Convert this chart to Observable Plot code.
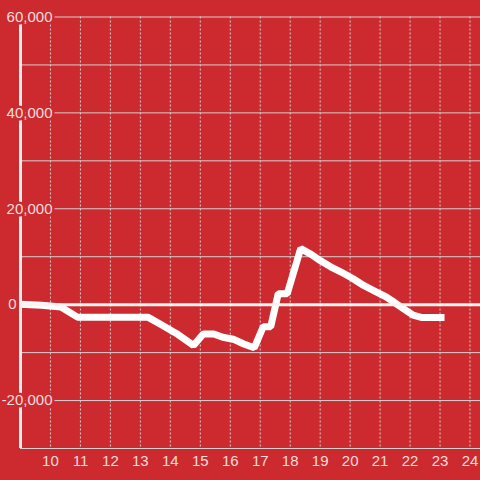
<!DOCTYPE html>
<html><head><meta charset="utf-8">
<script src="https://cdn.jsdelivr.net/npm/d3@7"></script>
<script src="https://cdn.jsdelivr.net/npm/@observablehq/plot@0.6"></script>
<style>
html,body{margin:0;padding:0;background:#cd2a2f;}
#chart{width:480px;height:480px;}
</style></head><body><div id="chart"></div>
<script>
const hours = [9.0, 9.7, 10.35, 10.9, 13.25, 13.7, 14.2, 14.77, 15.1, 15.45, 15.75, 16.1, 16.45, 16.8, 17.1, 17.35, 17.6, 17.9, 18.35, 18.7, 19.0, 19.35, 19.7, 20.1, 20.45, 20.8, 21.15, 21.45, 21.75, 22.1, 22.4, 23.15];
const values = [100, -100, -500, -2600, -2600, -4200, -6000, -8500, -6100, -6100, -6800, -7200, -8200, -9000, -4600, -4600, 2300, 2300, 11700, 10500, 9200, 7900, 6800, 5400, 4000, 2900, 1800, 600, -700, -2200, -2700, -2700];
const yGridTicks = [-30000, -20000, -10000, 0, 10000, 20000, 30000, 40000, 50000, 60000];
const yLabelTicks = [60000, 40000, 20000, -20000];
const yZeroTick = [0];
const xTicks = [10, 11, 12, 13, 14, 15, 16, 17, 18, 19, 20, 21, 22, 23, 24];
const xStart = [9];

const data = hours.map((h, i) => ({hour: h, value: values[i]}));
const bg = "#cd2a2f";
const fg = "#f4dede";
const grid = "#d4d0d0";
const fmt = d => d.toLocaleString("en-US");

const chart = Plot.plot({
  width: 480, height: 480,
  marginTop: 16.5, marginBottom: 32, marginLeft: 20, marginRight: 0,
  style: {background: bg, fontFamily: "'Liberation Sans', Arial, sans-serif", fontSize: "15px", color: fg},
  x: {domain: [9, 24.35], axis: null},
  y: {domain: [-30000, 60000], axis: null},
  marks: [
    Plot.ruleY(yGridTicks, {stroke: grid, strokeWidth: 1}),
    Plot.ruleX(xTicks, {stroke: grid, strokeWidth: 1, strokeDasharray: "2,2"}),
    Plot.line(data, {x: "hour", y: "value", stroke: "white", strokeWidth: 7, strokeLinecap: "butt", strokeLinejoin: "miter"}),
    Plot.ruleY(yZeroTick, {stroke: "#fbf2f2", strokeWidth: 3}),
    Plot.ruleX(xStart, {stroke: "#f3eeee", strokeWidth: 3}),
    Plot.axisX({ticks: xTicks, tickSize: 0, tickPadding: 7, label: null, fill: fg}),
    Plot.text(yLabelTicks, {y: d => d, frameAnchor: "left", textAnchor: "end", dx: 32, text: fmt, fill: fg, stroke: bg, strokeWidth: 5, paintOrder: "stroke", strokeLinejoin: "round", fontSize: 15}),
    Plot.text(yZeroTick, {y: d => d, frameAnchor: "left", textAnchor: "end", dx: -4, text: fmt, fill: fg, fontSize: 15})
  ]
});
document.getElementById("chart").appendChild(chart);
</script>
</body></html>
